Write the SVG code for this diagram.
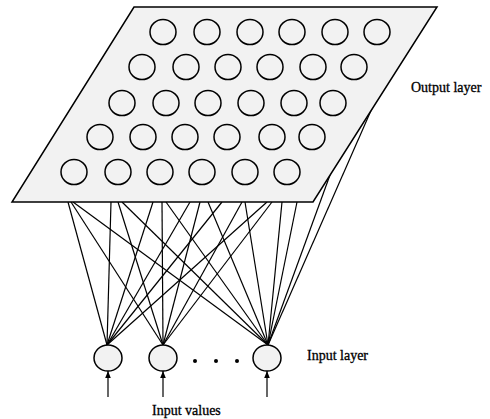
<svg xmlns="http://www.w3.org/2000/svg" width="490" height="419" viewBox="0 0 490 419">
<style>
.conn line{stroke:#000;stroke-width:1.2;fill:none}
.plane{fill:#f2f2f2;stroke:#000;stroke-width:1.5;stroke-linejoin:miter}
.on{fill:none;stroke:#000;stroke-width:1.5}
.in{fill:#f2f2f2;stroke:#000;stroke-width:1.5}
.lbl{font-family:"Liberation Serif","Times New Roman",serif;font-size:14px;fill:#000;stroke:#000;stroke-width:0.3}
.arr{stroke:#000;stroke-width:1.5;marker-end:url(#ah)}
</style>
<defs>
<marker id="ah" viewBox="0 0 10 10" refX="10" refY="5" markerWidth="7" markerHeight="7" markerUnits="userSpaceOnUse" orient="auto">
<path d="M0,1 L10,5 L0,9 z" fill="#000"/>
</marker>
</defs>
<g id="connectors" class="conn">
<line x1="107" y1="345" x2="68" y2="202"/>
<line x1="107" y1="345" x2="111" y2="202"/>
<line x1="107" y1="345" x2="153" y2="202"/>
<line x1="107" y1="345" x2="190" y2="202"/>
<line x1="107" y1="345" x2="222" y2="202"/>
<line x1="107" y1="345" x2="267" y2="202"/>
<line x1="163" y1="345" x2="71" y2="202"/>
<line x1="163" y1="345" x2="118" y2="202"/>
<line x1="163" y1="345" x2="162" y2="202"/>
<line x1="163" y1="345" x2="200" y2="202"/>
<line x1="163" y1="345" x2="242" y2="202"/>
<line x1="163" y1="345" x2="272" y2="202"/>
<line x1="268" y1="345" x2="73" y2="202"/>
<line x1="268" y1="345" x2="122" y2="202"/>
<line x1="268" y1="345" x2="166" y2="202"/>
<line x1="268" y1="345" x2="208" y2="202"/>
<line x1="268" y1="345" x2="245" y2="202"/>
<line x1="268" y1="345" x2="282" y2="202"/>
<line x1="268" y1="345" x2="297" y2="202"/>
<line x1="268" y1="345" x2="330" y2="175"/>
<line x1="268" y1="345" x2="373" y2="106"/>
<line class="arr" x1="108" y1="397" x2="108" y2="371"/>
<line class="arr" x1="163" y1="397" x2="163" y2="371"/>
<line class="arr" x1="267" y1="397" x2="267" y2="371"/>
</g>
<g id="output-layer">
<polygon class="plane" points="134,7 437,7 313,202 12,202"/>
<g id="o1"><ellipse class="on" cx="163" cy="32" rx="13" ry="12.5"/><ellipse class="on" cx="207" cy="32" rx="13" ry="12.5"/><ellipse class="on" cx="250" cy="32" rx="13" ry="12.5"/><ellipse class="on" cx="292" cy="32" rx="13" ry="12.5"/><ellipse class="on" cx="335" cy="32" rx="13" ry="12.5"/><ellipse class="on" cx="377" cy="32" rx="13" ry="12.5"/></g>
<g id="o2"><ellipse class="on" cx="142" cy="67" rx="13" ry="12.5"/><ellipse class="on" cx="186" cy="67" rx="13" ry="12.5"/><ellipse class="on" cx="228" cy="67" rx="13" ry="12.5"/><ellipse class="on" cx="270" cy="67" rx="13" ry="12.5"/><ellipse class="on" cx="313" cy="67" rx="13" ry="12.5"/><ellipse class="on" cx="354" cy="67" rx="13" ry="12.5"/></g>
<g id="o3"><ellipse class="on" cx="122" cy="103" rx="13" ry="12.5"/><ellipse class="on" cx="166" cy="103" rx="13" ry="12.5"/><ellipse class="on" cx="208" cy="103" rx="13" ry="12.5"/><ellipse class="on" cx="251" cy="103" rx="13" ry="12.5"/><ellipse class="on" cx="294" cy="103" rx="13" ry="12.5"/><ellipse class="on" cx="333" cy="103" rx="13" ry="12.5"/></g>
<g id="o4"><ellipse class="on" cx="100" cy="137" rx="13" ry="12.5"/><ellipse class="on" cx="143" cy="137" rx="13" ry="12.5"/><ellipse class="on" cx="185" cy="137" rx="13" ry="12.5"/><ellipse class="on" cx="227" cy="137" rx="13" ry="12.5"/><ellipse class="on" cx="272" cy="137" rx="13" ry="12.5"/><ellipse class="on" cx="312" cy="137" rx="13" ry="12.5"/></g>
<g id="o5"><ellipse class="on" cx="74" cy="172" rx="13" ry="12.5"/><ellipse class="on" cx="118" cy="172" rx="13" ry="12.5"/><ellipse class="on" cx="160" cy="172" rx="13" ry="12.5"/><ellipse class="on" cx="202" cy="172" rx="13" ry="12.5"/><ellipse class="on" cx="245" cy="172" rx="13" ry="12.5"/><ellipse class="on" cx="287" cy="172" rx="13" ry="12.5"/></g>
</g>
<g id="input1"><ellipse class="in" cx="108" cy="358" rx="14" ry="13"/></g>
<g id="input2"><ellipse class="in" cx="163" cy="358" rx="14" ry="13"/></g>
<g id="input3"><ellipse class="in" cx="267" cy="358" rx="14" ry="13"/></g>
<g id="ellipsis">
<circle cx="195" cy="361" r="2"/><circle cx="216" cy="361" r="2"/><circle cx="237" cy="361" r="2"/>
</g>
<g id="labels">
<text class="lbl" x="411" y="92">Output layer</text>
<text class="lbl" x="307" y="360">Input layer</text>
<text class="lbl" x="152" y="415">Input values</text>
</g>
</svg>
